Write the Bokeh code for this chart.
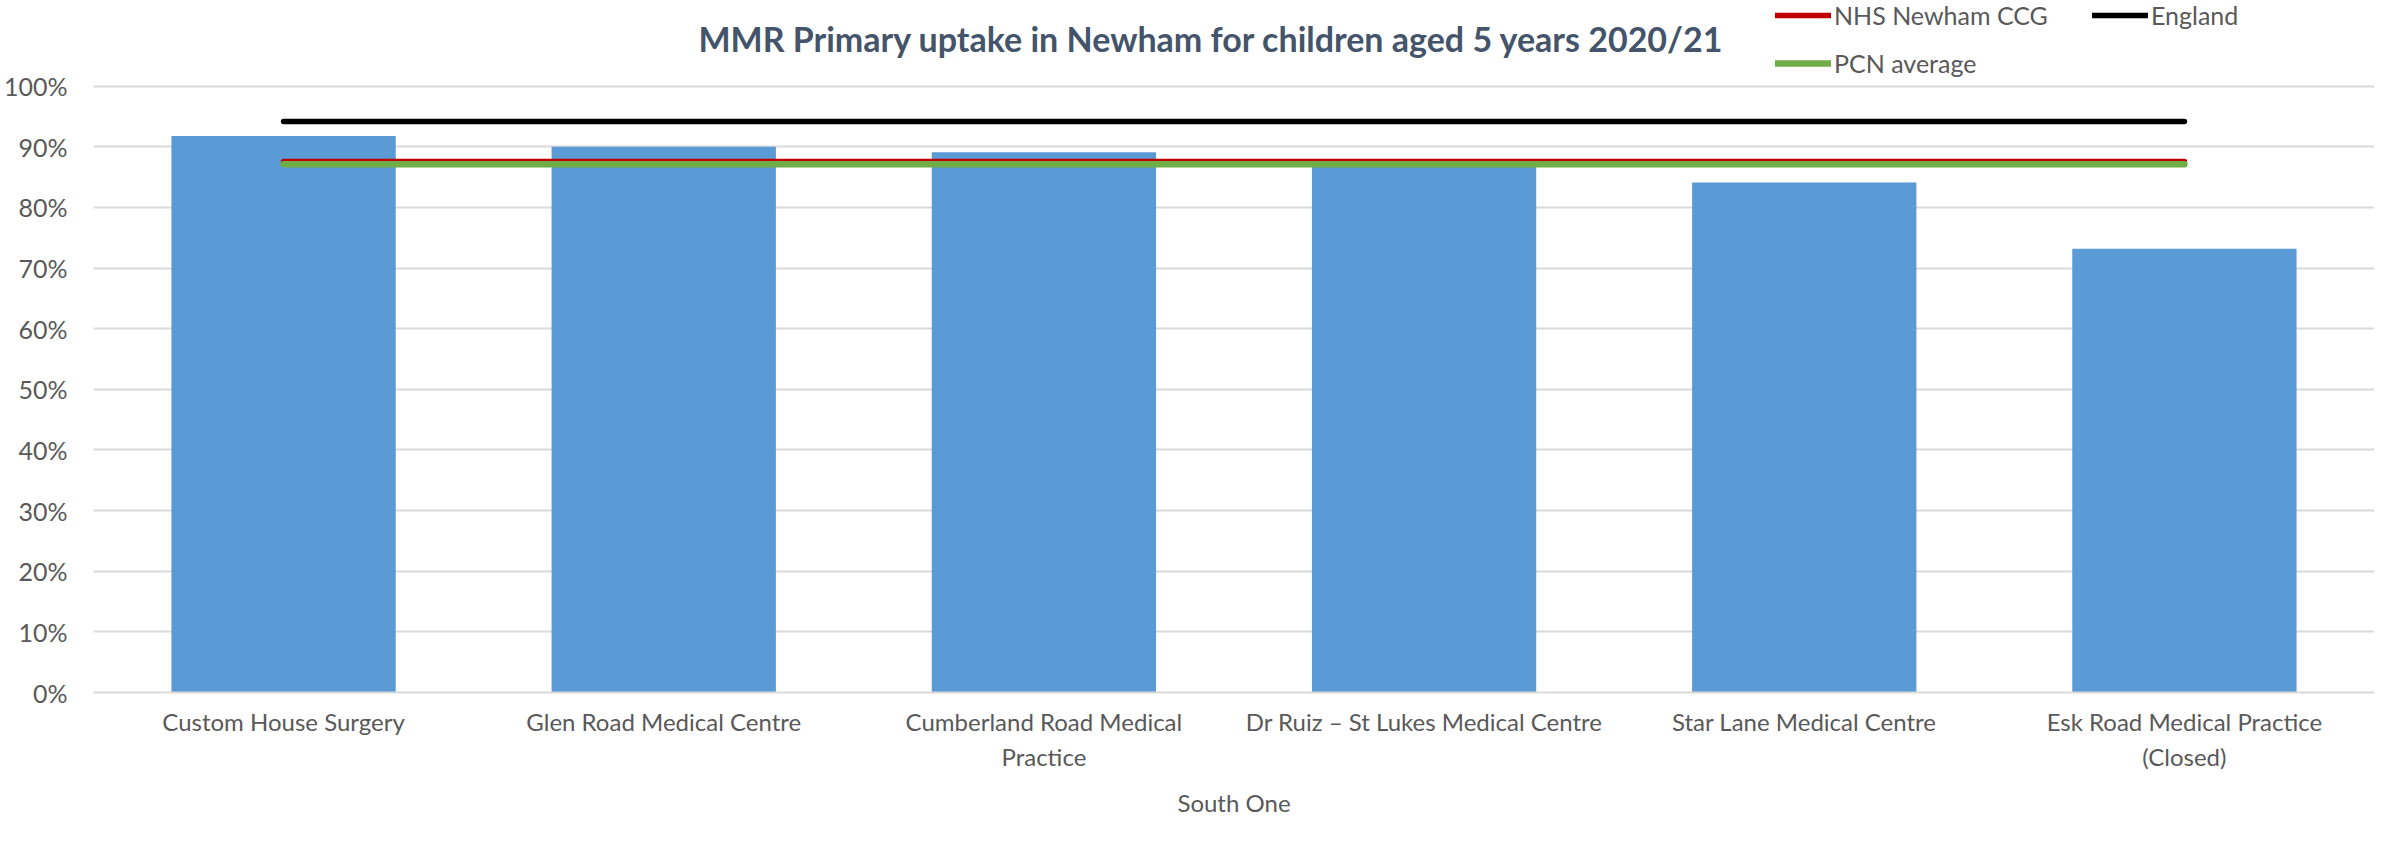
from bokeh.plotting import figure
from bokeh.models import (FactorRange, Range1d, NumeralTickFormatter, FixedTicker,
                          Legend, LegendItem, Label)
from bokeh.embed import file_html
from bokeh.resources import INLINE

title_text = "MMR Primary uptake in Newham for children aged 5 years 2020/21"
group = "South One"
practices = [
    "Custom House Surgery",
    "Glen Road Medical Centre",
    "Cumberland Road Medical\nPractice",
    "Dr Ruiz \u2013 St Lukes Medical Centre",
    "Star Lane Medical Centre",
    "Esk Road Medical Practice\n(Closed)",
]
uptake = [0.918, 0.900, 0.891, 0.873, 0.841, 0.732]
ccg = [0.876, 0.876, 0.876, 0.876, 0.876, 0.876]
england = [0.942, 0.942, 0.942, 0.942, 0.942, 0.942]
pcn = [0.8715, 0.8715, 0.8715, 0.8715, 0.8715, 0.8715]
y_ticks = [0.0, 0.1, 0.2, 0.3, 0.4, 0.5, 0.6, 0.7, 0.8, 0.9, 1.0]

FONT = "Lato"
GREY = "#595959"
GRID = "#D9D9D9"

factors = [(group, p_) for p_ in practices]

p = figure(width=2374, height=830, output_backend="svg", toolbar_location=None,
           x_range=FactorRange(*factors), y_range=Range1d(0, 1.1414),
           min_border_left=89, min_border_right=0, min_border_top=0,
           min_border_bottom=138)
p.title = None
p.outline_line_color = None
p.background_fill_color = "white"
p.border_fill_color = "white"

# bars
p.vbar(x=factors, top=uptake, width=0.59, fill_color="#5B9BD5", line_color=None)

# reference lines
r_eng = p.line(x=factors, y=england, line_color="black", line_width=5.5, line_cap="round")
r_ccg = p.line(x=factors, y=ccg, line_color="#C00000", line_width=5.5, line_cap="round")
r_pcn = p.line(x=factors, y=pcn, line_color="#70AD47", line_width=6.5, line_cap="round")

# y axis
p.yaxis.ticker = FixedTicker(ticks=y_ticks)
p.yaxis.formatter = NumeralTickFormatter(format="0%")
p.yaxis.axis_line_color = None
p.yaxis.major_tick_line_color = None
p.yaxis.minor_tick_line_color = None
p.yaxis.major_tick_out = 0
p.yaxis.major_tick_in = 0
p.yaxis.major_label_standoff = 26
p.yaxis.major_label_text_font = FONT
p.yaxis.major_label_text_font_size = "25px"
p.yaxis.major_label_text_color = GREY

p.ygrid.ticker = FixedTicker(ticks=y_ticks)
p.ygrid.grid_line_color = GRID
p.ygrid.grid_line_width = 2
p.xgrid.grid_line_color = None

# x axis
xa = p.xaxis[0]
xa.axis_line_color = GRID
xa.axis_line_width = 2
xa.major_tick_line_color = None
xa.major_tick_out = 0
xa.major_tick_in = 0
xa.minor_tick_line_color = None
xa.major_label_standoff = 14
xa.major_label_text_font = FONT
xa.major_label_text_font_size = "24px"
xa.major_label_text_color = GREY
xa.major_label_text_line_height = 1.22
xa.major_label_orientation = "horizontal"
xa.group_text_font = FONT
xa.group_text_font_size = "24px"
xa.group_text_font_style = "normal"
xa.group_text_color = GREY
xa.group_text_line_height = 1.0
xa.group_label_orientation = "horizontal"
xa.separator_line_color = None

# title
p.add_layout(Label(x=2.941, y=1.0787, text=title_text, text_align="center",
                   text_baseline="middle", text_font=FONT, text_font_size="34px",
                   text_font_style="bold", text_color="#44546A"))

legend = Legend(items=[LegendItem(label="NHS Newham CCG", renderers=[r_ccg]),
                       LegendItem(label="England", renderers=[r_eng]),
                       LegendItem(label="PCN average", renderers=[r_pcn])],
                location=(1682, 614), orientation="horizontal", ncols=2,
                glyph_width=56, glyph_height=28, label_height=28, label_width=240,
                label_standoff=3, spacing=18, padding=0, margin=0,
                label_text_font=FONT, label_text_font_size="25px",
                label_text_color=GREY, border_line_color=None,
                background_fill_alpha=0)
p.add_layout(legend, "center")

open("out.html", "w").write(file_html(p, INLINE))
